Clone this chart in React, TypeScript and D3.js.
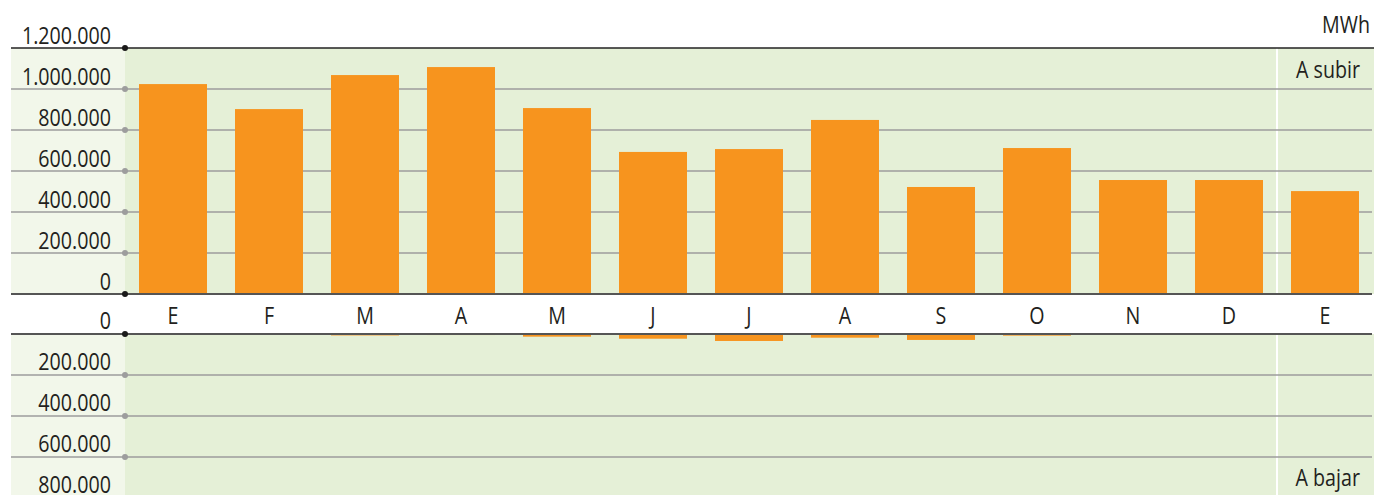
import React from "react";
import * as d3 from "d3";

const months = ["E", "F", "M", "A", "M", "J", "J", "A", "S", "O", "N", "D", "E"];
const upValues = [1024000, 902000, 1068000, 1107000, 907000, 693000, 707000, 849000, 522000, 712000, 556000, 556000, 502000];
const downValues = [0, 0, 7000, 5000, 13000, 23000, 34000, 18000, 29000, 8000, 0, 0, 0];
const upTicks = [0, 200000, 400000, 600000, 800000, 1000000, 1200000];
const downTicks = [0, 200000, 400000, 600000, 800000];
const unitLabel = "MWh";
const upLabel = "A subir";
const downLabel = "A bajar";

const W = 1374;
const H = 495;
const FONT = "'Open Sans', 'Noto Sans', sans-serif";
const ORANGE = "#f7941e";
const PLOT_BG = "#e5f0d7";
const LABEL_BG = "#f2f7ea";
const GRID = "#9d9d9d";
const SX = 0.82;

const fmt = (v: number) => d3.format(",")(v).replace(/,/g, ".");

function T({ x, y, anchor, children }: { x: number; y: number; anchor: string; children: React.ReactNode }) {
  return (
    <text transform={`translate(${x},${y}) scale(${SX},1)`} textAnchor={anchor} fontSize={24} fill="#231f20">
      {children}
    </text>
  );
}

export default function App() {
  const x = d3
    .scaleBand<number>()
    .domain(months.map((_, i) => i))
    .range([125, 1373])
    .paddingInner(28 / 96)
    .paddingOuter(14 / 96);
  const yTop = d3.scaleLinear().domain([0, 1200000]).range([294, 48]);
  const yBot = d3.scaleLinear().domain([0, 800000]).range([334, 498]);
  const left = 11;
  const axisX = 125;
  const right = 1372;
  const sepX = (x(11)! + x.bandwidth() + x(12)!) / 2;

  return (
    <svg width={W} height={H} style={{ position: "absolute", left: 0, top: 0, display: "block" }} fontFamily={FONT}>
      <rect x={left} y={yTop(1200000)} width={axisX - left} height={yTop(0) - yTop(1200000)} fill={LABEL_BG} />
      <rect x={axisX} y={yTop(1200000)} width={W - axisX} height={yTop(0) - yTop(1200000)} fill={PLOT_BG} />
      <rect x={left} y={yBot(0)} width={axisX - left} height={H - yBot(0)} fill={LABEL_BG} />
      <rect x={axisX} y={yBot(0)} width={W - axisX} height={H - yBot(0)} fill={PLOT_BG} />
      <line x1={sepX} x2={sepX} y1={yTop(1200000)} y2={yTop(0)} stroke="#fff" strokeWidth={2} />
      <line x1={sepX} x2={sepX} y1={yBot(0)} y2={H} stroke="#fff" strokeWidth={2} />
      {upTicks.filter((t) => t !== 0 && t !== 1200000).map((t) => (
        <line key={"ug" + t} x1={left} x2={right} y1={yTop(t)} y2={yTop(t)} stroke={GRID} strokeWidth={1.5} />
      ))}
      {downTicks.filter((t) => t !== 0).map((t) => (
        <line key={"dg" + t} x1={left} x2={right} y1={yBot(t)} y2={yBot(t)} stroke={GRID} strokeWidth={1.5} />
      ))}
      {upValues.map((v, i) => (
        <rect key={"ub" + i} x={x(i)} y={yTop(v)} width={x.bandwidth()} height={yTop(0) - yTop(v)} fill={ORANGE} />
      ))}
      {downValues.map((v, i) => (
        <rect key={"db" + i} x={x(i)} y={yBot(0)} width={x.bandwidth()} height={yBot(v) - yBot(0)} fill={ORANGE} />
      ))}
      <line x1={left} x2={W} y1={yTop(1200000)} y2={yTop(1200000)} stroke="#222" strokeWidth={1.5} />
      <line x1={left} x2={right} y1={yTop(0)} y2={yTop(0)} stroke="#555" strokeWidth={2} />
      <line x1={left} x2={right} y1={yBot(0)} y2={yBot(0)} stroke="#555" strokeWidth={2} />
      {upTicks.map((t) => (
        <g key={"ut" + t}>
          <circle cx={axisX} cy={yTop(t)} r={3} fill={t === 0 || t === 1200000 ? "#1a1a1a" : GRID} />
          <T x={111} y={yTop(t) - 4} anchor="end">{fmt(t)}</T>
        </g>
      ))}
      {downTicks.map((t) => (
        <g key={"dt" + t}>
          <circle cx={axisX} cy={yBot(t)} r={3} fill={t === 0 ? "#1a1a1a" : GRID} />
          <T x={111} y={yBot(t) - 5} anchor="end">{fmt(t)}</T>
        </g>
      ))}
      {months.map((m, i) => (
        <T key={"m" + i} x={x(i)! + x.bandwidth() / 2} y={324} anchor="middle">{m}</T>
      ))}
      <T x={1370} y={33} anchor="end">{unitLabel}</T>
      <T x={1360} y={78} anchor="end">{upLabel}</T>
      <T x={1360} y={486} anchor="end">{downLabel}</T>
    </svg>
  );
}
